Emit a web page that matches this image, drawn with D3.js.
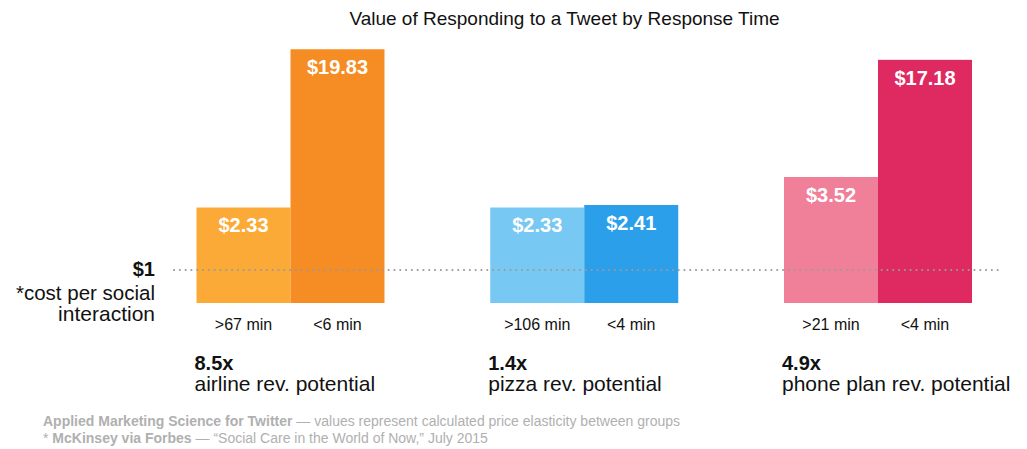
<!DOCTYPE html>
<html>
<head>
<meta charset="utf-8">
<script src="https://cdn.jsdelivr.net/npm/d3@7"></script>
<style>
  html, body { margin: 0; padding: 0; background: #fff; }
  svg { display: block; font-family: "Liberation Sans", Arial, sans-serif; }
</style>
</head>
<body>
<svg id="chart" width="1027" height="449"></svg>
<script>
// Industries compared
const industries = ["airline", "pizza", "phone plan"];
// Response-time buckets per industry: slow reply vs fast reply
const slowTimes = [">67 min", ">106 min", ">21 min"];
const fastTimes = ["<6 min", "<4 min", "<4 min"];
// Value of a reply (USD) in each bucket
const slowValues = [2.33, 2.33, 3.52];
const fastValues = [19.83, 2.41, 17.18];
// Revenue-potential multipliers
const multipliers = ["8.5x", "1.4x", "4.9x"];
// Cost per social interaction (reference line)
const costPerInteraction = 1;

const palette = {
  "airline":    { slow: "#fbaa38", fast: "#f68d24" },
  "pizza":      { slow: "#78c8f4", fast: "#2b9fea" },
  "phone plan": { slow: "#f08099", fast: "#de2961" }
};

const svg = d3.select("#chart");
const baseY = 303, topY = 45;

// Log scale keeps the $1 cost line and the large values readable together
const y = d3.scaleLog().domain([0.64, 21]).range([baseY, topY]);

// Group centres and the two bars inside each group
const xGroup = d3.scalePoint().domain(industries).range([290.5, 878]);
const xInner = d3.scaleBand().domain(["slow", "fast"]).range([-94, 94]).paddingInner(0);

const rows = industries.map((k, i) => ({
  key: k,
  bars: [
    { kind: "slow", time: slowTimes[i], value: slowValues[i] },
    { kind: "fast", time: fastTimes[i], value: fastValues[i] }
  ],
  mult: multipliers[i]
}));

// Title
svg.append("text")
  .attr("x", 564.5).attr("y", 25)
  .attr("text-anchor", "middle")
  .attr("font-size", 19)
  .attr("fill", "#111")
  .text("Value of Responding to a Tweet by Response Time");

const groups = svg.selectAll("g.group").data(rows).join("g")
  .attr("class", "group")
  .attr("transform", d => `translate(${xGroup(d.key)},0)`);

// Bars
groups.selectAll("rect").data(d => d.bars.map(b => ({ ...b, key: d.key }))).join("rect")
  .attr("x", b => xInner(b.kind))
  .attr("width", xInner.bandwidth())
  .attr("y", b => y(b.value))
  .attr("height", b => baseY - y(b.value))
  .attr("fill", b => palette[b.key][b.kind]);

// Value labels inside bars
groups.selectAll("text.val").data(d => d.bars).join("text")
  .attr("class", "val")
  .attr("x", b => xInner(b.kind) + xInner.bandwidth() / 2)
  .attr("y", b => y(b.value) + 25)
  .attr("text-anchor", "middle")
  .attr("font-size", 20)
  .attr("font-weight", "bold")
  .attr("fill", "#fff")
  .text(b => "$" + b.value.toFixed(2));

// Response-time labels under bars
groups.selectAll("text.time").data(d => d.bars).join("text")
  .attr("class", "time")
  .attr("x", b => xInner(b.kind) + xInner.bandwidth() / 2)
  .attr("y", 330)
  .attr("text-anchor", "middle")
  .attr("font-size", 16)
  .attr("fill", "#111")
  .text(b => b.time);

// Multiplier + revenue-potential captions
groups.append("text")
  .attr("x", xInner("slow") - 2)
  .attr("y", 370)
  .attr("font-size", 20)
  .attr("font-weight", "bold")
  .attr("fill", "#111")
  .text(d => d.mult);

groups.append("text")
  .attr("x", xInner("slow") - 2)
  .attr("y", 391)
  .attr("font-size", 21)
  .attr("fill", "#111")
  .text(d => d.key + " rev. potential");

// $1 cost reference line (dotted), drawn over the bars
const costY = y(costPerInteraction);
svg.append("line")
  .attr("x1", 174).attr("x2", 999)
  .attr("y1", costY).attr("y2", costY)
  .attr("stroke", "#9a9a9a")
  .attr("stroke-width", 2)
  .attr("stroke-linecap", "round")
  .attr("stroke-dasharray", "0.1 5.7");

// Reference line label
const refLabel = svg.append("g").attr("text-anchor", "end").attr("fill", "#111");
refLabel.append("text")
  .attr("x", 155).attr("y", costY + 6)
  .attr("font-size", 20).attr("font-weight", "bold")
  .text("$" + costPerInteraction);
refLabel.append("text")
  .attr("x", 155).attr("y", costY + 30)
  .attr("font-size", 20.5)
  .text("*cost per social");
refLabel.append("text")
  .attr("x", 155).attr("y", costY + 51)
  .attr("font-size", 21)
  .text("interaction");

// Sources
const src = svg.append("g").attr("font-size", 14).attr("fill", "#b0b0b0");
const s1 = src.append("text").attr("x", 43).attr("y", 426);
s1.append("tspan").attr("font-weight", "bold").text("Applied Marketing Science for Twitter");
s1.append("tspan").text(" \u2014 values represent calculated price elasticity between groups");
const s2 = src.append("text").attr("x", 43).attr("y", 443);
s2.append("tspan").text("* ");
s2.append("tspan").attr("font-weight", "bold").text("McKinsey via Forbes");
s2.append("tspan").text(" \u2014 \u201cSocial Care in the World of Now,\u201d July 2015");
</script>
</body>
</html>
